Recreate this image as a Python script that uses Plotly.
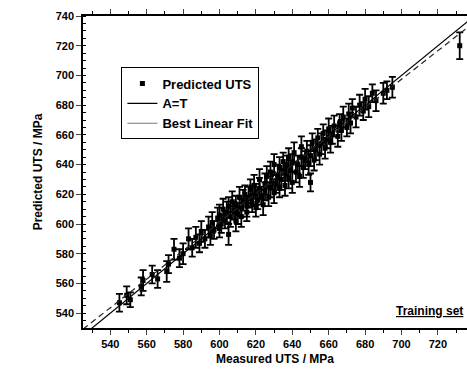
import plotly.graph_objects as go

measured = [545, 549, 551, 557, 558, 563, 566, 571, 572, 575, 578, 580, 583, 585, 587, 589, 590, 592, 594, 595,
            596, 597, 599, 600, 600, 601, 602, 603, 604, 605, 605, 606, 607, 608, 609, 609, 610, 611, 612, 612,
            613, 614, 615, 615, 616, 617, 618, 618, 619, 620, 620, 621, 622, 622, 623, 624, 625, 625, 626, 627,
            628, 628, 629, 630, 630, 631, 632, 633, 633, 634, 635, 636, 636, 637, 638, 638, 639, 640, 640, 641,
            642, 643, 644, 645, 645, 646, 647, 648, 649, 650, 650, 651, 652, 653, 654, 655, 656, 657, 658, 659,
            660, 661, 662, 663, 665, 666, 667, 668, 670, 671, 672, 673, 675, 677, 679, 680, 682, 684, 686, 690,
            692, 695, 732]
predicted = [547, 552, 549, 558, 562, 566, 563, 568, 573, 583, 577, 580, 590, 584, 591, 587, 595, 590, 598, 592,
             601, 596, 604, 597, 606, 600, 610, 603, 608, 593, 612, 605, 615, 609, 602, 613, 607, 618, 611, 605,
             616, 620, 612, 608, 618, 623, 614, 619, 626, 611, 620, 616, 624, 630, 619, 613, 627, 622, 632, 618,
             625, 635, 629, 621, 640, 627, 633, 624, 638, 630, 642, 626, 635, 639, 631, 645, 636, 628, 641, 648,
             635, 640, 632, 645, 652, 638, 643, 649, 640, 628, 646, 655, 643, 650, 658, 647, 654, 661, 651, 657,
             664, 655, 660, 666, 659, 668, 663, 672, 665, 674, 668, 678, 672, 680, 676, 684, 679, 688, 683, 688,
             690, 692, 720]
errors = [6, 6, 5, 6, 7, 6, 6, 7, 6, 7, 6, 7, 7, 6, 7, 6, 7, 6, 7, 6,
          7, 6, 7, 6, 7, 6, 7, 6, 7, 7, 6, 7, 7, 6, 7, 6, 7, 7, 6, 7,
          7, 6, 7, 6, 7, 7, 6, 7, 7, 6, 7, 6, 7, 7, 6, 7, 7, 6, 7, 6,
          7, 7, 6, 7, 7, 6, 7, 6, 7, 7, 6, 7, 6, 7, 7, 6, 7, 7, 6, 7,
          7, 6, 7, 6, 7, 7, 6, 7, 7, 6, 7, 6, 7, 7, 6, 7, 7, 6, 7, 6,
          7, 7, 6, 7, 7, 6, 7, 7, 6, 7, 7, 6, 7, 7, 6, 7, 7, 6, 7, 7,
          6, 7, 9]

line_x = [525, 740]
fit_intercept = 24.7
fit_slope = 0.961
fit_y = [fit_intercept + fit_slope * v for v in line_x]

x_ticks = [540, 560, 580, 600, 620, 640, 660, 680, 700, 720, 740]
y_ticks = [540, 560, 580, 600, 620, 640, 660, 680, 700, 720, 740]

FONT = "Liberation Sans"

fig = go.Figure()
fig.add_trace(go.Scatter(
    x=measured, y=predicted, mode="markers", name="Predicted UTS",
    marker=dict(symbol="square", size=5, color="black"),
    error_y=dict(type="data", array=errors, visible=True, color="black", thickness=1.8, width=3.5),
))
fig.add_trace(go.Scatter(
    x=line_x, y=line_x, mode="lines", name="A=T",
    line=dict(color="black", width=1.2),
))
fig.add_trace(go.Scatter(
    x=line_x, y=fit_y, mode="lines", showlegend=False,
    line=dict(color="#222", width=1.2, dash="6px,4px"),
))
fig.add_trace(go.Scatter(
    x=[None], y=[None], mode="lines", name="Best Linear Fit",
    line=dict(color="#777", width=1.2),
))

fig.update_layout(
    width=467, height=370,
    margin=dict(l=83, r=0, t=16, b=42),
    paper_bgcolor="white", plot_bgcolor="white",
    font=dict(family=FONT, color="black", size=11, weight="bold"),
    showlegend=True,
    legend=dict(
        x=0.10, y=0.835, xanchor="left", yanchor="top",
        bordercolor="black", borderwidth=1, bgcolor="white",
        font=dict(family=FONT, size=13, color="black", weight="bold"),
        tracegroupgap=0, itemwidth=30,
    ),
    xaxis=dict(
        range=[525, 736], tickvals=x_ticks, ticks="outside", ticklen=5, tickwidth=1.2,
        showline=True, linecolor="black", linewidth=1.5, mirror="ticks",
        showgrid=False, zeroline=False,
        tickfont=dict(family=FONT, size=11, weight="bold"),
        minor=dict(dtick=10, ticks="outside", ticklen=3, tickcolor="black"),
        title=dict(text="Measured UTS / MPa", font=dict(family=FONT, size=12, weight="bold"), standoff=6),
    ),
    yaxis=dict(
        range=[530, 740], tickvals=y_ticks, ticks="outside", ticklen=5, tickwidth=1.2,
        showline=True, linecolor="black", linewidth=1.5, mirror=False,
        showgrid=False, zeroline=False,
        tickfont=dict(family=FONT, size=11, weight="bold"),
        minor=dict(dtick=5, ticks="inside", ticklen=3, tickcolor="black"),
        title=dict(text="Predicted UTS / MPa", font=dict(family=FONT, size=12, weight="bold"), standoff=10),
    ),
    annotations=[dict(
        text="<u>Training set</u>", x=0.995, y=0.025, xref="paper", yref="paper",
        xanchor="right", yanchor="bottom", showarrow=False,
        font=dict(family=FONT, size=12, color="black", weight="bold"),
    )],
)

fig.write_html("out.html")
